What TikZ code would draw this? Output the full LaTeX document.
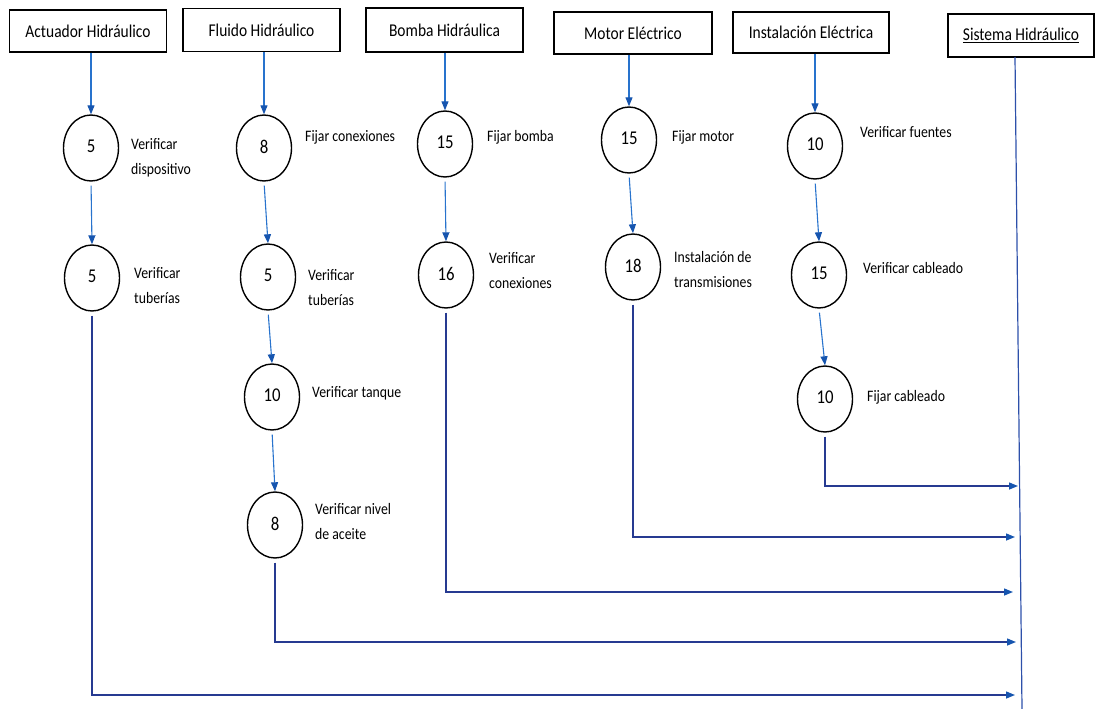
\documentclass[tikz,border=0pt]{standalone}
\usepackage{fontspec}
\setmainfont[FakeStretch=0.86]{Carlito}
\usetikzlibrary{arrows.meta,shapes.geometric}
\definecolor{flowblue}{RGB}{40,115,205}
\definecolor{linknavy}{RGB}{38,58,145}
\definecolor{tipblue}{RGB}{22,85,175}
\definecolor{sysblue}{RGB}{45,80,170}
% duration figure, set slightly above the middle of its circle
\newcommand\durfig[1]{\raisebox{3pt}{#1}}
\tikzset{
  unitbox/.style={draw=black,line width=1.2pt,inner sep=0pt,font=\fontsize{18}{20}\selectfont},
  task/.style={ellipse,draw=black,line width=1.4pt,inner sep=0pt,minimum width=55pt,minimum height=66pt,font=\fontsize{19.5}{20}\selectfont},
  note/.style={anchor=west,inner sep=0pt,align=left,font=\fontsize{16}{25}\selectfont},
  flow/.style={draw=flowblue,line width=1.1pt,-{Triangle[length=9pt,width=7pt,fill=tipblue,color=tipblue]}},
  link/.style={draw=linknavy,line width=1.4pt,-{Triangle[length=9pt,width=7pt,fill=tipblue,color=tipblue]}}
}
\begin{document}
\begin{tikzpicture}[x=1pt,y=-1pt]
\useasboundingbox (0,0) rectangle (1095,709);

% component headers
\node[unitbox,minimum width=157pt,minimum height=42pt] (act) at (88,31) {Actuador Hidráulico};
\node[unitbox,minimum width=157pt,minimum height=43pt] (flu) at (261.5,30) {Fluido Hidráulico};
\node[unitbox,minimum width=157pt,minimum height=44pt] (bom) at (444.5,30) {Bomba Hidráulica};
\node[unitbox,minimum width=158pt,minimum height=42pt] (mot) at (633,33) {Motor Eléctrico};
\node[unitbox,minimum width=156pt,minimum height=41pt] (ins) at (811,32.5) {Instalación Eléctrica};
\node[unitbox,minimum width=146pt,minimum height=43pt] (sis) at (1021,35.5) {\underline{Sistema Hidráulico}};

% activities with durations
\node[task] (a1) at (91,148) {\durfig{5}};
\node[task] (a2) at (92,278) {\durfig{5}};
\node[task] (f1) at (264,148) {\durfig{8}};
\node[task] (f2) at (268,277) {\durfig{5}};
\node[task] (f3) at (272,397) {\durfig{10}};
\node[task] (f4) at (275,525) {\durfig{8}};
\node[task] (b1) at (445,144) {\durfig{15}};
\node[task] (b2) at (446,275) {\durfig{16}};
\node[task] (m1) at (629,140) {\durfig{15}};
\node[task] (m2) at (633,267) {\durfig{18}};
\node[task] (e1) at (815,146) {\durfig{10}};
\node[task] (e2) at (819,275) {\durfig{15}};
\node[task] (e3) at (825,399) {\durfig{10}};

% activity descriptions
\node[note] at (131,158) {Verificar\\dispositivo};
\node[note] at (134,286) {Verificar\\tuberías};
\node[note] at (305,137) {Fijar conexiones};
\node[note] at (308,288) {Verificar\\tuberías};
\node[note] at (312,393) {Verificar tanque};
\node[note] at (315,521) {Verificar nivel\\de aceite};
\node[note] at (487,137) {Fijar bomba};
\node[note] at (489,271) {Verificar\\conexiones};
\node[note] at (672,137) {Fijar motor};
\node[note] at (674,270) {Instalación de\\transmisiones};
\node[note] at (860,132) {Verificar fuentes};
\node[note] at (863,268) {Verificar cableado};
\node[note] at (867,397) {Fijar cableado};

% sequence inside each component
\draw[flow] (act.south -| a1.north) -- (a1.north);
\draw[flow,shorten <=4pt] (a1.south) -- (a2.north);
\draw[flow] (flu.south -| f1.north) -- (f1.north);
\draw[flow,shorten <=4pt] (f1.south) -- (f2.north);
\draw[flow,shorten <=4pt] (f2.south) -- (f3.north);
\draw[flow,shorten <=4pt] (f3.south) -- (f4.north);
\draw[flow] (bom.south -| b1.north) -- (b1.north);
\draw[flow,shorten <=4pt] (b1.south) -- (b2.north);
\draw[flow] (mot.south -| m1.north) -- (m1.north);
\draw[flow,shorten <=4pt] (m1.south) -- (m2.north);
\draw[flow] (ins.south -| e1.north) -- (e1.north);
\draw[flow,shorten <=4pt] (e1.south) -- (e2.north);
\draw[flow,shorten <=4pt] (e2.south) -- (e3.north);

% system assembly line
\coordinate (systop) at (1015,57);
\coordinate (sysend) at (1022,709);
\draw[sysblue,line width=1.2pt] (systop) -- (sysend);

\coordinate (inE) at (1018,486);
\coordinate (inM) at (1015,537);
\coordinate (inB) at (1013,592);
\coordinate (inF) at (1016,642);
\coordinate (inA) at (1015,695);

\draw[link,shorten <=4pt] (e3.south) |- (inE);
\draw[link,shorten <=4pt] (m2.south) |- (inM);
\draw[link,shorten <=4pt] (b2.south) |- (inB);
\draw[link,shorten <=4pt] (f4.south) |- (inF);
\draw[link,shorten <=4pt] (a2.south) |- (inA);
\end{tikzpicture}
\end{document}
